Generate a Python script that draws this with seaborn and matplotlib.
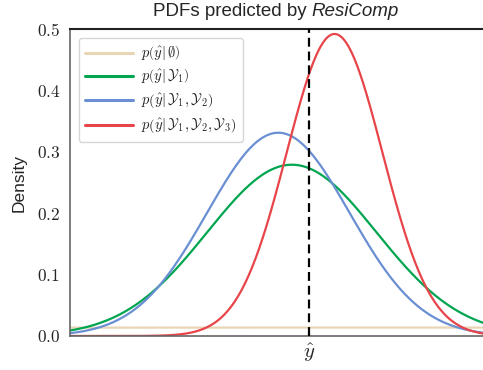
import numpy as np
import pandas as pd
import matplotlib
matplotlib.use("Agg")
import matplotlib.pyplot as plt
import seaborn as sns

# ---- data ----
series_labels = [r"$p\left(\hat{y}|\,\emptyset\right)$",
                 r"$p\left(\hat{y}|\,\mathcal{Y}_1\right)$",
                 r"$p\left(\hat{y}|\,\mathcal{Y}_1,\mathcal{Y}_2\right)$",
                 r"$p\left(\hat{y}|\,\mathcal{Y}_1,\mathcal{Y}_2,\mathcal{Y}_3\right)$"]
means = [0.0, -0.297, -0.525, 0.427]
stds = [29.0, 1.43, 1.205, 0.811]
colors = ["#E8D5B5", "#00A550", "#6A8FD2", "#E8454A"]
y_ticks = [0.0, 0.1, 0.2, 0.3, 0.4, 0.5]
y_tick_labels = [r"$0.0$", r"$0.1$", r"$0.2$", r"$0.3$", r"$0.4$", r"$0.5$"]
x_tick_labels = [r"$\hat{y}$"]
y_hat = 0.0
x_range = (-4.05, 3.02)

sns.set_style("white")
plt.rcParams["mathtext.fontset"] = "cm"
plt.rcParams["font.family"] = ["Liberation Sans", "DejaVu Sans"]

xs = np.linspace(x_range[0], x_range[1], 600)
frames = []
for lab, m, s in zip(series_labels, means, stds):
    dens = np.exp(-0.5 * ((xs - m) / s) ** 2) / (s * np.sqrt(2 * np.pi))
    frames.append(pd.DataFrame({"x": xs, "density": dens, "series": lab}))
df = pd.concat(frames, ignore_index=True)

W, H = 483, 370
fig = plt.figure(figsize=(W / 100, H / 100), dpi=100)
ax = fig.add_axes([70 / W, (H - 336) / H, (W - 70) / W + 0.01, (336 - 29) / H])

sns.lineplot(data=df, x="x", y="density", hue="series", hue_order=series_labels,
             palette=dict(zip(series_labels, colors)), linewidth=1.6, ax=ax,
             legend=True, sort=False)
ax.axvline(y_hat, color="black", linestyle=(0, (4, 2.2)), linewidth=1.6, zorder=5)

ax.set_xlim(*x_range)
ax.set_ylim(0, 0.5)
ax.set_yticks(y_ticks)
ax.set_yticklabels(y_tick_labels, fontsize=12.5)
ax.set_xticks([y_hat])
ax.set_xticklabels(x_tick_labels, fontsize=15)
ax.tick_params(axis="x", length=0, pad=4)
ax.tick_params(axis="y", length=4, width=1, color="#555555", pad=3)
ax.set_xlabel("")
ax.set_ylabel("Density", fontsize=12.5, labelpad=7)

for side in ["left", "bottom"]:
    ax.spines[side].set_color("#666666")
    ax.spines[side].set_linewidth(1.2)
ax.spines["top"].set_color("#222222")
ax.spines["top"].set_linewidth(1.5)
ax.spines["right"].set_visible(False)

leg = ax.legend(loc="upper left", fontsize=10.5, handlelength=3.3, handletextpad=0.55,
                labelspacing=0.37, borderpad=0.45, frameon=True,
                bbox_to_anchor=(0.003, 0.995))
leg.get_frame().set_edgecolor("#cccccc")
leg.get_frame().set_linewidth(1.0)
for line in leg.get_lines():
    line.set_linewidth(2.2)

# title: regular part + italic part, centred over the axes
ty = 1 - 12 / H
fs_t = 13.5
t1 = fig.text(0, ty, "PDFs predicted by ", fontsize=fs_t, ha="left", va="center")
t2 = fig.text(0, ty, "ResiComp", fontsize=fs_t, style="italic", ha="left", va="center")
fig.canvas.draw()
r = fig.canvas.get_renderer()
w1 = t1.get_window_extent(r).width / W
w2 = t2.get_window_extent(r).width / W
cx = 276 / W
x0 = cx - (w1 + w2) / 2
t1.set_x(x0)
t2.set_x(x0 + w1)

fig.savefig("out.png", dpi=100)
